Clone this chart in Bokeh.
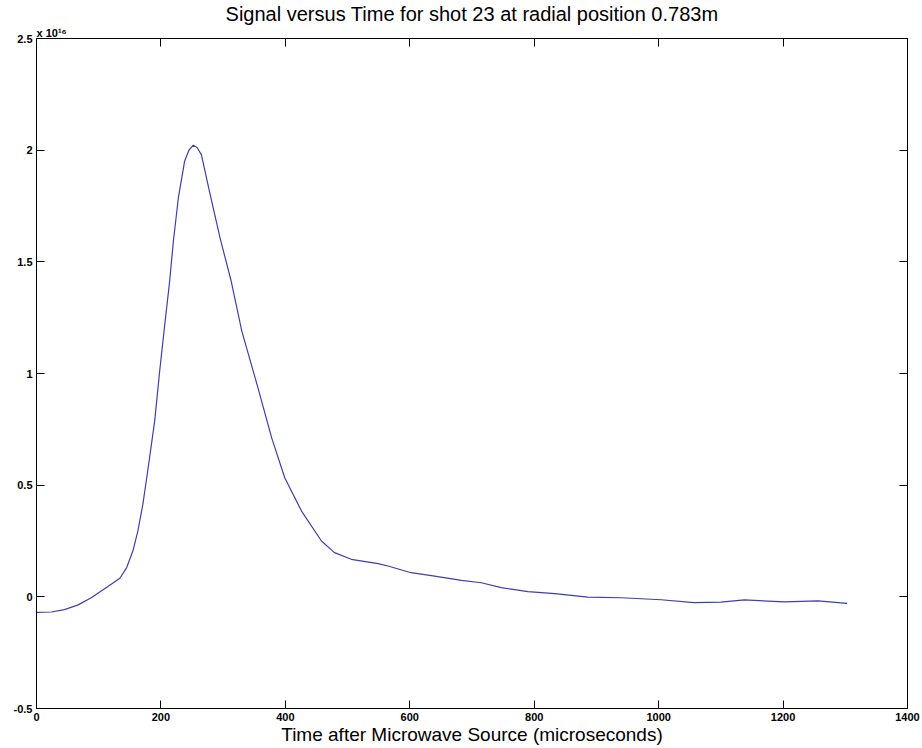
from bokeh.plotting import figure
from bokeh.models import LinearAxis, FixedTicker, Title, ColumnDataSource
from bokeh.embed import file_html
from bokeh.resources import INLINE

# --- data (signal in units of 1e16) ---
time_us = [0, 24, 45, 67, 88, 104, 120, 134, 145, 155, 163, 171, 178, 184, 190, 198,
           205, 214, 220, 228, 238, 245, 252, 258, 265, 278, 295, 313, 330, 356, 378,
           399, 426, 458, 479, 506, 549, 565, 602, 640, 683, 715, 747, 790, 833, 886,
           940, 1004, 1057, 1100, 1138, 1202, 1256, 1303]
signal_e16 = [-0.070, -0.068, -0.057, -0.036, -0.004, 0.026, 0.056, 0.083, 0.131, 0.206,
              0.295, 0.415, 0.549, 0.668, 0.788, 1.011, 1.190, 1.413, 1.592, 1.786, 1.950,
              2.000, 2.022, 2.012, 1.980, 1.816, 1.607, 1.413, 1.190, 0.936, 0.712, 0.533,
              0.384, 0.250, 0.198, 0.168, 0.149, 0.138, 0.108, 0.093, 0.074, 0.063, 0.041,
              0.023, 0.014, -0.001, -0.004, -0.013, -0.026, -0.024, -0.014, -0.023, -0.018,
              -0.029]

x_ticks = [0, 200, 400, 600, 800, 1000, 1200, 1400]
y_ticks = [-0.5, 0, 0.5, 1, 1.5, 2, 2.5]
y_tick_labels = ["-0.5", "0", "0.5", "1", "1.5", "2", "2.5"]
x_tick_labels = ["0", "200", "400", "600", "800", "1000", "1200", "1400"]

title_text = "Signal versus Time for shot 23 at radial position 0.783m"
xlabel_text = "Time after Microwave Source (microseconds)"
exponent_text = "x 10\u00b9\u2076"

FONT = "Liberation Sans"

p = figure(width=922, height=748, output_backend="svg", toolbar_location=None,
           x_range=(0, 1400), y_range=(-0.5, 2.5),
           min_border_left=36, min_border_right=15, min_border_top=38, min_border_bottom=40)

p.background_fill_color = "white"
p.border_fill_color = "white"
p.outline_line_color = "black"
p.outline_line_width = 1
p.grid.visible = False

src = ColumnDataSource(dict(t=time_us, s=signal_e16))
p.line("t", "s", source=src, line_color="#3a40b0", line_width=1.2)


def style_axis(ax, ticks, labels, show_labels=True):
    ax.ticker = FixedTicker(ticks=ticks)
    ax.major_label_overrides = {t: (l if show_labels else "") for t, l in zip(ticks, labels)}
    ax.major_tick_in = 8
    ax.major_tick_out = 0
    ax.minor_tick_line_color = None
    ax.axis_line_color = "black"
    ax.major_tick_line_color = "black"
    ax.major_label_text_font = FONT
    ax.major_label_text_font_style = "bold"
    ax.major_label_text_font_size = "11px"
    ax.major_label_text_color = "black"
    ax.major_label_standoff = 4


style_axis(p.xaxis[0], x_ticks, x_tick_labels)
style_axis(p.yaxis[0], y_ticks, y_tick_labels)
p.xaxis[0].axis_label = xlabel_text
p.xaxis[0].axis_label_text_font = FONT
p.xaxis[0].axis_label_text_font_size = "19px"
p.xaxis[0].axis_label_text_font_style = "normal"
p.xaxis[0].axis_label_text_color = "black"
p.xaxis[0].axis_label_standoff = 0

top_ax = LinearAxis()
style_axis(top_ax, x_ticks, x_tick_labels, show_labels=False)
top_ax.major_label_text_font_size = "0px"
top_ax.major_label_standoff = 0
p.add_layout(top_ax, "above")

right_ax = LinearAxis()
style_axis(right_ax, y_ticks, y_tick_labels, show_labels=False)
right_ax.major_label_text_font_size = "0px"
right_ax.major_label_standoff = 0
p.add_layout(right_ax, "right")

# exponent (left-aligned, just above the frame)
p.add_layout(Title(text=exponent_text, align="left", offset=0, standoff=0,
                   text_font=FONT, text_font_size="11px", text_font_style="bold",
                   text_color="black"), "above")

# main title
p.add_layout(Title(text=title_text, align="center", standoff=0,
                   text_font=FONT, text_font_size="20px", text_font_style="normal",
                   text_color="black"), "above")

open("out.html", "w").write(file_html(p, INLINE))
